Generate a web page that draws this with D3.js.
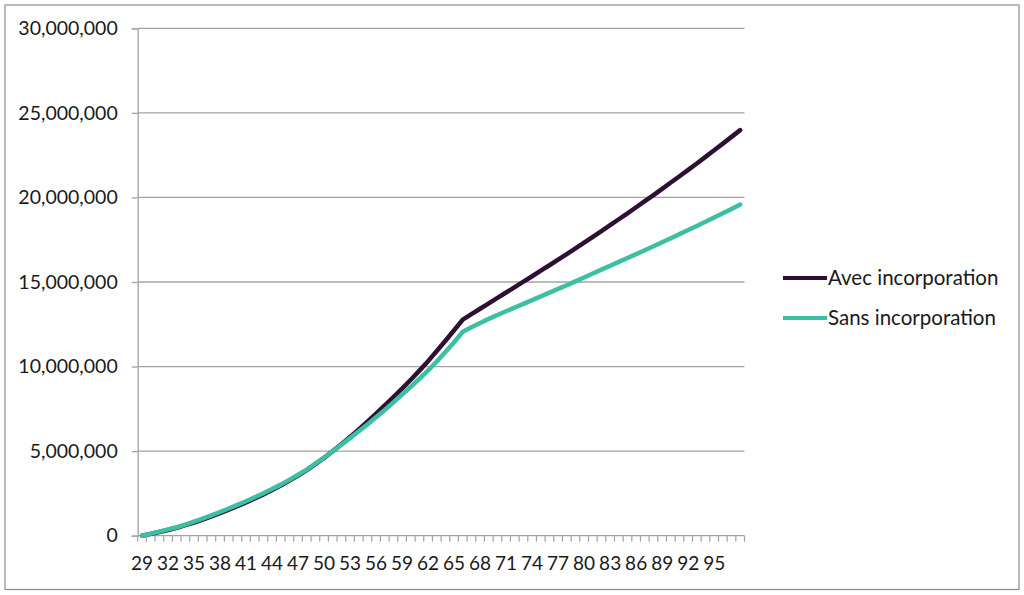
<!DOCTYPE html>
<html>
<head>
<meta charset="utf-8">
<script src="https://cdn.jsdelivr.net/npm/d3@7"></script>
<style>
  html, body { margin: 0; padding: 0; background: #fff; }
  svg { display: block; }
  text { font-family: Lato, "Open Sans", sans-serif; fill: #1a1a1a; }
</style>
</head>
<body>
<svg id="chart" width="1024" height="595"></svg>
<script>
// Ages (categories) 29..98
const ages = [29,30,31,32,33,34,35,36,37,38,39,40,41,42,43,44,45,46,47,48,49,50,51,52,53,54,55,56,57,58,59,60,61,62,63,64,65,66,67,68,69,70,71,72,73,74,75,76,77,78,79,80,81,82,83,84,85,86,87,88,89,90,91,92,93,94,95,96,97,98];

// Values in millions
const avecIncorporation = [
  0.00,0.11,0.22,0.34,0.47,0.62,0.78,0.95,1.14,1.33,
  1.54,1.75,1.97,2.20,2.44,2.70,2.97,3.26,3.56,3.88,
  4.23,4.60,5.00,5.41,5.84,6.28,6.74,7.22,7.70,8.19,
  8.70,9.22,9.76,10.32,10.92,11.53,12.15,12.78,13.10,13.42,
  13.74,14.06,14.38,14.70,15.02,15.34,15.67,15.99,16.32,16.65,
  16.99,17.33,17.67,18.01,18.36,18.71,19.06,19.42,19.78,20.14,
  20.51,20.88,21.25,21.63,22.01,22.40,22.79,23.18,23.58,23.98
];
const sansIncorporation = [
  0.00,0.12,0.24,0.37,0.50,0.66,0.83,1.01,1.20,1.40,
  1.61,1.82,2.04,2.27,2.51,2.76,3.02,3.30,3.60,3.91,
  4.26,4.62,5.00,5.38,5.77,6.17,6.58,7.00,7.43,7.88,
  8.35,8.80,9.28,9.78,10.30,10.86,11.44,12.06,12.33,12.58,
  12.82,13.05,13.27,13.49,13.71,13.93,14.15,14.37,14.59,14.81,
  15.04,15.27,15.50,15.73,15.96,16.19,16.42,16.65,16.88,17.11,
  17.35,17.59,17.83,18.07,18.31,18.56,18.81,19.06,19.32,19.58
];

const yTicks = [0, 5000000, 10000000, 15000000, 20000000, 25000000, 30000000];
const xLabelAges = [29,32,35,38,41,44,47,50,53,56,59,62,65,68,71,74,77,80,83,86,89,92,95];

const seriesNames = ["Avec incorporation", "Sans incorporation"];
const seriesColors = ["#2e1035", "#3dbfa3"];

const svg = d3.select("#chart");

// Outer chart border
svg.append("rect")
  .attr("x", 5).attr("y", 5)
  .attr("width", 1014).attr("height", 584.5)
  .attr("fill", "#fff")
  .attr("stroke", "#8c8c8c")
  .attr("stroke-width", 1.2);

const plotLeft = 137.7, plotRight = 744.5, plotTop = 28.3, plotBottom = 535.7;

const x = d3.scaleBand().domain(ages).range([plotLeft, plotRight]).padding(0);
const y = d3.scaleLinear().domain([0, 30000000]).range([plotBottom, plotTop]);

// Gridlines
svg.append("g").selectAll("line")
  .data(yTicks.filter(d => d > 0))
  .join("line")
  .attr("x1", plotLeft).attr("x2", plotRight)
  .attr("y1", d => y(d)).attr("y2", d => y(d))
  .attr("stroke", "#a3a3a3").attr("stroke-width", 1.3);

// Y axis
const fmt = d3.format(",");
const yAxis = d3.axisLeft(y).tickValues(yTicks).tickFormat(fmt).tickSize(6).tickPadding(14);
const gy = svg.append("g").attr("transform", `translate(${plotLeft},0)`).call(yAxis);
gy.select(".domain").attr("stroke", "#a3a3a3").attr("stroke-width", 1.3);
gy.selectAll(".tick line").attr("stroke", "#a3a3a3").attr("stroke-width", 1.3);
gy.selectAll(".tick text").style("font-size", "19.5px").style("font-family", "Lato").attr("fill", "#1a1a1a");

// X axis: ticks at band boundaries
const gx = svg.append("g");
gx.append("line")
  .attr("x1", plotLeft).attr("x2", plotRight)
  .attr("y1", plotBottom).attr("y2", plotBottom)
  .attr("stroke", "#a3a3a3").attr("stroke-width", 1.3);
const boundaries = ages.map(a => x(a)).concat([x(ages[ages.length-1]) + x.bandwidth()]);
gx.selectAll("line.tk")
  .data(boundaries)
  .join("line").attr("class", "tk")
  .attr("x1", d => d).attr("x2", d => d)
  .attr("y1", plotBottom).attr("y2", plotBottom + 6)
  .attr("stroke", "#a3a3a3").attr("stroke-width", 1.2);
gx.selectAll("text")
  .data(xLabelAges)
  .join("text")
  .attr("x", d => x(d) + x.bandwidth() / 2)
  .attr("y", 570)
  .attr("text-anchor", "middle")
  .style("font-size", "19px")
  .text(d => d);

// Lines
const line = d3.line()
  .x((d, i) => x(ages[i]) + x.bandwidth() / 2)
  .y(d => y(d * 1000000));

svg.append("path")
  .datum(avecIncorporation)
  .attr("d", line)
  .attr("fill", "none")
  .attr("stroke", seriesColors[0])
  .attr("stroke-width", 4.5)
  .attr("stroke-linejoin", "round")
  .attr("stroke-linecap", "round");
svg.append("path")
  .datum(sansIncorporation)
  .attr("d", line)
  .attr("fill", "none")
  .attr("stroke", seriesColors[1])
  .attr("stroke-width", 4.5)
  .attr("stroke-linejoin", "round")
  .attr("stroke-linecap", "round");

// Legend
const legend = svg.append("g");
const legendY = [278, 318];
seriesNames.forEach((name, i) => {
  legend.append("line")
    .attr("x1", 783).attr("x2", 827)
    .attr("y1", legendY[i]).attr("y2", legendY[i])
    .attr("stroke", seriesColors[i]).attr("stroke-width", 4);
  legend.append("text")
    .attr("x", 828).attr("y", legendY[i])
    .attr("dy", "0.35em")
    .style("font-size", "20.5px")
    .text(name);
});
</script>
</body>
</html>
